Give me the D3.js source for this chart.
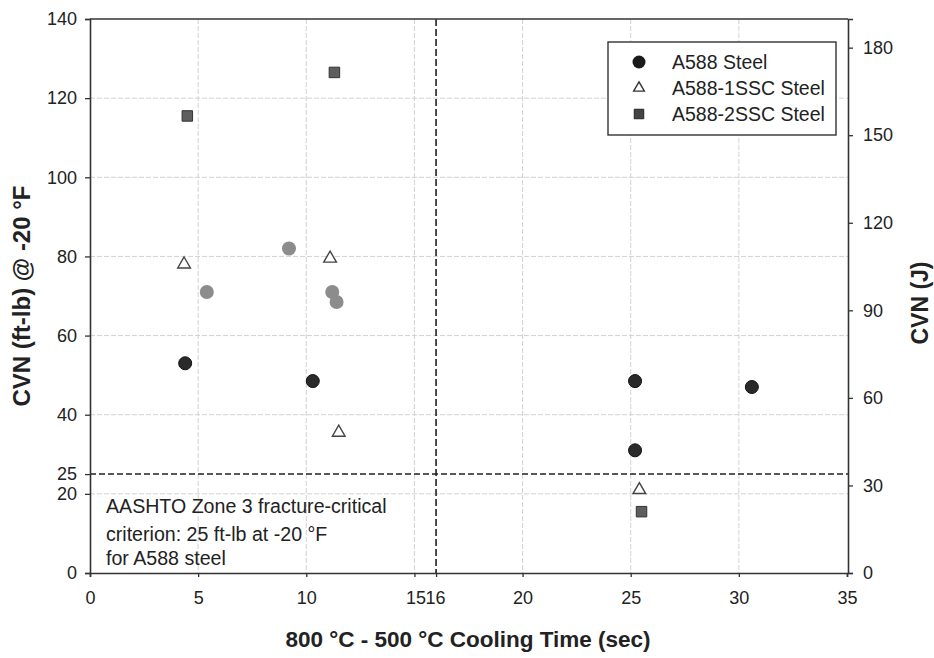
<!DOCTYPE html>
<html>
<head>
<meta charset="utf-8">
<script src="https://cdn.jsdelivr.net/npm/d3@7"></script>
<style>
  html, body { margin: 0; padding: 0; background: #fff; }
  text { font-family: "Liberation Sans", Arial, sans-serif; fill: #222; }
</style>
</head>
<body>
<svg id="chart" width="934" height="658"></svg>
<script>
// Cooling time (s) and Charpy V-notch energy (ft-lb @ -20 °F)
const a588Time = [4.4, 10.3, 25.2, 25.2, 30.6];
const a588Cvn  = [53, 48.5, 48.5, 31, 47];

const a588ExtraTime = [5.4, 9.2, 11.2, 11.4];
const a588ExtraCvn  = [71, 82, 71, 68.5];

const ssc1Time = [4.35, 11.1, 11.5, 25.4];
const ssc1Cvn  = [78, 79.5, 35.5, 21];

const ssc2Time = [4.5, 11.3, 25.5];
const ssc2Cvn  = [115.5, 126.5, 15.5];

const xTicks = [0, 5, 10, 15, 16, 20, 25, 30, 35];
const xGrid = [5, 10, 15, 20, 25, 30];
const yTicks = [0, 20, 25, 40, 60, 80, 100, 120, 140];
const yGrid = [20, 40, 60, 80, 100, 120];
const jTicks = [0, 30, 60, 90, 120, 150, 180];

const legendNames = ["A588 Steel", "A588-1SSC Steel", "A588-2SSC Steel"];
const criterionCvn = 25;
const criterionTime = 16;
const noteLines = ["AASHTO Zone 3 fracture-critical", "criterion: 25 ft-lb at -20 \u00b0F", "for A588 steel"];

const FTLB_TO_J = 1.355818;

const svg = d3.select("#chart");
const L = 90, R = 848, T = 19, B = 573;

const x = d3.scaleLinear().domain([0, 35]).range([L, R - 1]);
const y = d3.scaleLinear().domain([0, 140]).range([B, T]);
const yJ = d3.scaleLinear().domain([0, 140 * FTLB_TO_J]).range([B, T]);

// grid
const grid = svg.append("g").attr("stroke", "#d2d2d2").attr("stroke-width", 1).attr("stroke-dasharray", "5,2");
grid.selectAll("line.gx").data(xGrid).join("line")
  .attr("x1", d => x(d)).attr("x2", d => x(d)).attr("y1", T).attr("y2", B);
grid.selectAll("line.gy").data(yGrid).join("line")
  .attr("x1", L).attr("x2", R).attr("y1", d => y(d)).attr("y2", d => y(d));

// criterion lines
svg.append("line")
  .attr("x1", L).attr("x2", R).attr("y1", y(criterionCvn)).attr("y2", y(criterionCvn))
  .attr("stroke", "#222").attr("stroke-width", 1.4).attr("stroke-dasharray", "6,3");
svg.append("line")
  .attr("x1", x(criterionTime)).attr("x2", x(criterionTime)).attr("y1", T).attr("y2", B)
  .attr("stroke", "#222").attr("stroke-width", 1.6).attr("stroke-dasharray", "7,3");

// axes
const axFont = 18;
const xAxis = svg.append("g").attr("transform", `translate(0,${B})`)
  .call(d3.axisBottom(x).tickValues(xTicks).tickSize(4).tickPadding(14).tickFormat(d3.format("d")));
const yAxis = svg.append("g").attr("transform", `translate(${L},0)`)
  .call(d3.axisLeft(y).tickValues(yTicks).tickSize(5).tickPadding(8).tickFormat(d3.format("d")));
const jAxis = svg.append("g").attr("transform", `translate(${R},0)`)
  .call(d3.axisRight(yJ).tickValues(jTicks).tickSize(5).tickPadding(10).tickFormat(d3.format("d")));
[xAxis, yAxis, jAxis].forEach(g => {
  g.select(".domain").attr("stroke", "#333").attr("stroke-width", 1.6);
  g.selectAll(".tick line").attr("stroke", "#333").attr("stroke-width", 1.3);
  g.selectAll(".tick text").attr("font-size", axFont).attr("fill", "#222")
    .attr("font-family", "'Liberation Sans', Arial, sans-serif");
});
// keep the adjacent 15 / 16 labels snug
xAxis.selectAll(".tick text").attr("dx", d => d === 15 ? 1 : (d === 16 ? -1 : 0));
// top frame
svg.append("line").attr("x1", L).attr("x2", R).attr("y1", T).attr("y2", T)
  .attr("stroke", "#333").attr("stroke-width", 1.6);

// axis titles
svg.append("text")
  .attr("transform", `translate(30,${(T + B) / 2}) rotate(-90)`)
  .attr("text-anchor", "middle").attr("font-weight", "bold").attr("font-size", 24)
  .text("CVN (ft-lb) @ -20 \u00b0F");
svg.append("text")
  .attr("transform", `translate(928,${(T + B) / 2 + 7}) rotate(-90)`)
  .attr("text-anchor", "middle").attr("font-weight", "bold").attr("font-size", 23)
  .text("CVN (J)");
svg.append("text")
  .attr("x", (L + R) / 2 - 1).attr("y", 647)
  .attr("text-anchor", "middle").attr("font-weight", "bold").attr("font-size", 22.5)
  .text("800 \u00b0C - 500 \u00b0C Cooling Time (sec)");

// criterion note
svg.append("g").selectAll("text").data(noteLines).join("text")
  .attr("x", 106).attr("y", (d, i) => [513, 541, 565][i])
  .attr("font-size", 19.6).text(d => d);

// markers
const tri = d3.symbol().type(d3.symbolTriangle).size(70);
const sq = d3.symbol().type(d3.symbolSquare).size(110);

svg.append("g").selectAll("circle").data(d3.zip(a588ExtraTime, a588ExtraCvn)).join("circle")
  .attr("cx", d => x(d[0])).attr("cy", d => y(d[1])).attr("r", 7)
  .attr("fill", "#8c8c8c");
svg.append("g").selectAll("circle").data(d3.zip(a588Time, a588Cvn)).join("circle")
  .attr("cx", d => x(d[0])).attr("cy", d => y(d[1])).attr("r", 6.5)
  .attr("fill", "#2a2a2a").attr("stroke", "#111");
svg.append("g").selectAll("path").data(d3.zip(ssc1Time, ssc1Cvn)).join("path")
  .attr("d", tri).attr("transform", d => `translate(${x(d[0])},${y(d[1])})`)
  .attr("fill", "#fff").attr("stroke", "#444").attr("stroke-width", 1.4);
svg.append("g").selectAll("path").data(d3.zip(ssc2Time, ssc2Cvn)).join("path")
  .attr("d", sq).attr("transform", d => `translate(${x(d[0])},${y(d[1])})`)
  .attr("fill", "#5e5e5e").attr("stroke", "#333").attr("stroke-width", 1);

// legend
const lg = svg.append("g");
lg.append("rect").attr("x", 608).attr("y", 42).attr("width", 228).attr("height", 93)
  .attr("fill", "#fff").attr("stroke", "#333").attr("stroke-width", 1.4);
const rows = [62, 88, 114];
lg.append("circle").attr("cx", 639).attr("cy", rows[0]).attr("r", 6.5).attr("fill", "#1a1a1a");
lg.append("path").attr("d", d3.symbol().type(d3.symbolTriangle).size(50))
  .attr("transform", `translate(639,${rows[1]})`).attr("fill", "#fff").attr("stroke", "#333").attr("stroke-width", 1.4);
lg.append("path").attr("d", d3.symbol().type(d3.symbolSquare).size(90))
  .attr("transform", `translate(639,${rows[2]})`).attr("fill", "#444").attr("stroke", "#222");
lg.selectAll("text").data(legendNames).join("text")
  .attr("x", 672).attr("y", (d, i) => rows[i] + 7).attr("font-size", 19.5).text(d => d);
</script>
</body>
</html>
